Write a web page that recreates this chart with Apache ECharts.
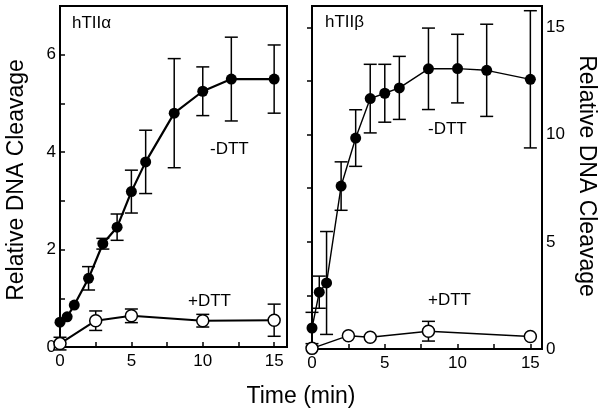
<!DOCTYPE html>
<html>
<head>
<meta charset="utf-8">
<script src="https://cdn.jsdelivr.net/npm/echarts@6/dist/echarts.min.js"></script>
<style>
html,body{margin:0;padding:0;background:#fff;}
#chart{width:603px;height:418px;}
</style>
</head>
<body>
<div id="chart"></div>
<script>
// Time points (min)
var times = [0, 0.5, 1, 2, 3, 4, 5, 6, 8, 10, 12, 15];

// hTIIalpha, -DTT
var alphaMinus = [0.51, 0.62, 0.86, 1.41, 2.12, 2.46, 3.19, 3.80, 4.80, 5.25, 5.50, 5.50];
var alphaMinusErr = [0, 0, 0, 0.24, 0.11, 0.27, 0.44, 0.65, 1.12, 0.50, 0.86, 0.70];
// hTIIalpha, +DTT
var alphaPlusTimes = [0, 2.5, 5, 10, 15];
var alphaPlus = [0.07, 0.54, 0.64, 0.54, 0.55];
var alphaPlusErr = [0.13, 0.20, 0.14, 0.13, 0.33];

// hTIIbeta, -DTT
var betaMinus = [0.98, 2.65, 3.08, 7.60, 9.84, 11.68, 11.93, 12.18, 13.07, 13.08, 13.00, 12.58];
var betaMinusErr = [0.73, 0.75, 2.40, 1.13, 1.32, 1.60, 1.35, 1.47, 1.90, 1.60, 2.15, 3.20];
// hTIIbeta, +DTT
var betaPlusTimes = [0, 2.5, 4, 8, 15];
var betaPlus = [0.03, 0.62, 0.55, 0.83, 0.58];
var betaPlusErr = [0, 0, 0, 0.46, 0];

// Tick labels
var xTickLabels = [0, 5, 10, 15];
var alphaYTickLabels = [0, 2, 4, 6];
var betaYTickLabels = [0, 5, 10, 15];

var FONT = '"Liberation Sans", Arial, Helvetica, sans-serif';

function pairs(xs, ys) { return xs.map(function (x, i) { return [x, ys[i]]; }); }
function errs(xs, ys, es) {
  var out = [];
  xs.forEach(function (x, i) { if (es[i] > 0) out.push([x, ys[i] - es[i], ys[i] + es[i]]); });
  return out;
}
function errRender(params, api) {
  var x = api.value(0);
  var lo = api.coord([x, api.value(1)]);
  var hi = api.coord([x, api.value(2)]);
  var w = 6.5;
  var st = { stroke: '#000', lineWidth: 1.5 };
  return {
    type: 'group',
    children: [
      { type: 'line', shape: { x1: lo[0], y1: lo[1], x2: hi[0], y2: hi[1] }, style: st },
      { type: 'line', shape: { x1: lo[0] - w, y1: lo[1], x2: lo[0] + w, y2: lo[1] }, style: st },
      { type: 'line', shape: { x1: hi[0] - w, y1: hi[1], x2: hi[0] + w, y2: hi[1] }, style: st }
    ]
  };
}
function labelFilter(list) {
  return function (v) { return list.indexOf(v) >= 0 ? String(v) : ''; };
}

function xAxis(idx, max) {
  return {
    type: 'value', gridIndex: idx, min: 0, max: max, interval: 2.5,
    axisLine: { show: true, onZero: false, lineStyle: { color: '#000', width: 2 } },
    axisTick: { show: true, inside: true, length: 5, lineStyle: { color: '#000', width: 1.5 } },
    axisLabel: { color: '#000', fontSize: 17, fontFamily: FONT, margin: 6,
                 formatter: labelFilter(xTickLabels), showMaxLabel: false },
    splitLine: { show: false }
  };
}

var option = {
  backgroundColor: '#fff',
  animation: false,
  grid: [
    { left: 60, top: 6, width: 227, height: 341, show: true, borderColor: '#000', borderWidth: 2, backgroundColor: 'transparent' },
    { left: 312, top: 6, width: 230, height: 343, show: true, borderColor: '#000', borderWidth: 2, backgroundColor: 'transparent' }
  ],
  xAxis: [ xAxis(0, 15.9), xAxis(1, 15.8) ],
  yAxis: [
    {
      type: 'value', gridIndex: 0, min: 0, max: 7, interval: 1,
      axisLine: { show: true, lineStyle: { color: '#000', width: 2 } },
      axisTick: { show: true, inside: true, length: 5, lineStyle: { color: '#000', width: 1.5 } },
      axisLabel: { color: '#000', fontSize: 17, fontFamily: FONT, margin: 4,
                   formatter: labelFilter(alphaYTickLabels), showMaxLabel: false },
      splitLine: { show: false }
    },
    {
      type: 'value', gridIndex: 1, position: 'right', min: 0, max: 16, interval: 2.5,
      axisLine: { show: true, lineStyle: { color: '#000', width: 2 } },
      axisTick: { show: true, inside: true, length: 5, lineStyle: { color: '#000', width: 1.5 } },
      axisLabel: { color: '#000', fontSize: 17, fontFamily: FONT, margin: 4,
                   formatter: labelFilter(betaYTickLabels), showMaxLabel: false },
      splitLine: { show: false }
    }
  ],
  series: [
    { type: 'custom', xAxisIndex: 0, yAxisIndex: 0, renderItem: errRender, z: 1,
      encode: { x: 0, y: [1, 2] }, data: errs(times, alphaMinus, alphaMinusErr) },
    { type: 'custom', xAxisIndex: 0, yAxisIndex: 0, renderItem: errRender, z: 1,
      encode: { x: 0, y: [1, 2] }, data: errs(alphaPlusTimes, alphaPlus, alphaPlusErr) },
    { type: 'custom', xAxisIndex: 1, yAxisIndex: 1, renderItem: errRender, z: 1,
      encode: { x: 0, y: [1, 2] }, data: errs(times, betaMinus, betaMinusErr) },
    { type: 'custom', xAxisIndex: 1, yAxisIndex: 1, renderItem: errRender, z: 1,
      encode: { x: 0, y: [1, 2] }, data: errs(betaPlusTimes, betaPlus, betaPlusErr) },
    { type: 'line', xAxisIndex: 0, yAxisIndex: 0, z: 3, clip: false,
      data: pairs(times, alphaMinus), symbol: 'circle', symbolSize: 11,
      lineStyle: { color: '#000', width: 2.2 }, itemStyle: { color: '#000' } },
    { type: 'line', xAxisIndex: 0, yAxisIndex: 0, z: 3, clip: false,
      data: pairs(alphaPlusTimes, alphaPlus), symbol: 'circle', symbolSize: 12,
      lineStyle: { color: '#000', width: 2 }, itemStyle: { color: '#fff', borderColor: '#000', borderWidth: 1.5 } },
    { type: 'line', xAxisIndex: 1, yAxisIndex: 1, z: 3, clip: false,
      data: pairs(times, betaMinus), symbol: 'circle', symbolSize: 11,
      lineStyle: { color: '#000', width: 1.4 }, itemStyle: { color: '#000' } },
    { type: 'line', xAxisIndex: 1, yAxisIndex: 1, z: 3, clip: false,
      data: pairs(betaPlusTimes, betaPlus), symbol: 'circle', symbolSize: 12,
      lineStyle: { color: '#000', width: 1.4 }, itemStyle: { color: '#fff', borderColor: '#000', borderWidth: 1.5 } }
  ],
  graphic: [
    { type: 'text', left: 72, top: 15, z: 10, style: { text: 'hTIIα', font: '17px ' + FONT, fill: '#000' } },
    { type: 'text', left: 210, top: 141, z: 10, style: { text: '-DTT', font: '17px ' + FONT, fill: '#000' } },
    { type: 'text', left: 188, top: 293, z: 10, style: { text: '+DTT', font: '17px ' + FONT, fill: '#000' } },
    { type: 'text', left: 325, top: 14, z: 10, style: { text: 'hTIIβ', font: '17px ' + FONT, fill: '#000' } },
    { type: 'text', left: 428, top: 121, z: 10, style: { text: '-DTT', font: '17px ' + FONT, fill: '#000' } },
    { type: 'text', left: 428, top: 292, z: 10, style: { text: '+DTT', font: '17px ' + FONT, fill: '#000' } },
    { type: 'text', x: 16.5, y: 180, rotation: Math.PI / 2, z: 10,
      style: { text: 'Relative DNA Cleavage', font: '23px ' + FONT, fill: '#000', align: 'center', verticalAlign: 'middle' } },
    { type: 'text', x: 586, y: 176, rotation: -Math.PI / 2, z: 10,
      style: { text: 'Relative DNA Cleavage', font: '23px ' + FONT, fill: '#000', align: 'center', verticalAlign: 'middle' } },
    { type: 'text', x: 301, y: 397, z: 10,
      style: { text: 'Time (min)', font: '23px ' + FONT, fill: '#000', align: 'center', verticalAlign: 'middle' } }
  ]
};

var chart = echarts.init(document.getElementById('chart'), null, { renderer: 'canvas' });
chart.setOption(option);
</script>
</body>
</html>
